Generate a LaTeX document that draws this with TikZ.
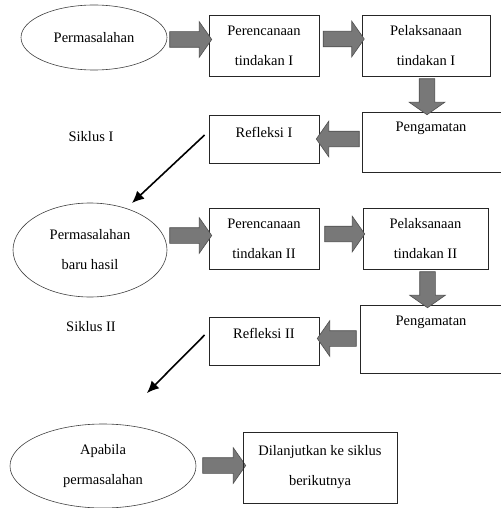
\documentclass[tikz,border=0pt]{standalone}
\usepackage{fontspec}
\setmainfont{Liberation Serif}
\usetikzlibrary{shapes.geometric,shapes.arrows,arrows.meta}
\definecolor{abu}{RGB}{120,120,120}
\definecolor{abutua}{RGB}{80,80,80}

\begin{document}
\begin{tikzpicture}[x=1pt,y=-1pt,
  every node/.style={font=\fontsize{14.5}{30}\selectfont, align=center},
  kotak/.style={draw=black!85, line width=0.8pt, inner sep=0pt},
  elips/.style={draw=black!75, ellipse, line width=0.6pt, inner sep=0pt},
  panah/.style={single arrow, draw=abutua, fill=abu, inner sep=0pt, text height=7.5pt, text depth=7.5pt,
    single arrow head extend=10pt, single arrow tip angle=110, line width=0.6pt},
  garis/.style={line width=1.6pt, -{Latex[length=12pt,width=11pt]}}]
\useasboundingbox (0,0) rectangle (500,508);

% siklus I
\node[elips, minimum width=146, minimum height=65] (m1) at (94,37.5) {Permasalahan};
\node[kotak, minimum width=110, minimum height=61] (r1) at (264,45.5) {Perencanaan\\tindakan I};
\node[kotak, minimum width=128, minimum height=61] (l1) at (426,45.5) {Pelaksanaan\\tindakan I};
\node[kotak, minimum width=143, minimum height=60] (a1) at (433.5,142) {};
\node (a1t) at (431,128) {Pengamatan};
\node[kotak, minimum width=110, minimum height=48] (f1) at (264,139) {};
\node (f1t) at (264,132) {Refleksi I};
\node (s1) at (91,137) {Siklus I};
\node[panah, minimum height=42] (p1) at (188,39.5) {};
\node[panah, minimum height=41] (p2) at (341,39) {};
\node[panah, minimum height=36, rotate=-90] (p3) at (427,94) {};
\node[panah, minimum height=43, rotate=180] (p4) at (340.5,139) {};
\coordinate (u1) at (132,203);
\draw[garis] ([xshift=-4pt,yshift=4pt]f1.west) -- (u1);

% siklus II
\node[elips, minimum width=154, minimum height=94] (m2) at (90,250) {Permasalahan\\baru hasil};
\node[kotak, minimum width=110, minimum height=61] (r2) at (264,238.5) {Perencanaan\\tindakan II};
\node[kotak, minimum width=125, minimum height=61] (l2) at (425.5,238.5) {Pelaksanaan\\tindakan II};
\node[kotak, minimum width=145, minimum height=68] (a2) at (432.5,339) {};
\node (a2t) at (431,322) {Pengamatan};
\node[kotak, minimum width=110, minimum height=48] (f2) at (264,341) {};
\node (f2t) at (264,333) {Refleksi II};
\node (s2) at (91,327) {Siklus II};
\node[panah, minimum height=42] (p5) at (188,235.5) {};
\node[panah, minimum height=40] (p6) at (342,234) {};
\node[panah, minimum height=36, rotate=-90] (p7) at (427.5,287) {};
\node[panah, minimum height=39, rotate=180] (p8) at (339.5,338.5) {};
\coordinate (u2) at (147,393);
\draw[garis] ([xshift=-4pt,yshift=6pt]f2.west) -- (u2);

% lanjut
\node[elips, minimum width=186, minimum height=84] (m3) at (103,466) {Apabila\\permasalahan};
\node[panah, minimum height=43] (p9) at (221.5,465.5) {};
\node[kotak, minimum width=154, minimum height=71] (d1) at (320,467.5) {Dilanjutkan ke siklus\\berikutnya};

\end{tikzpicture}
\end{document}
